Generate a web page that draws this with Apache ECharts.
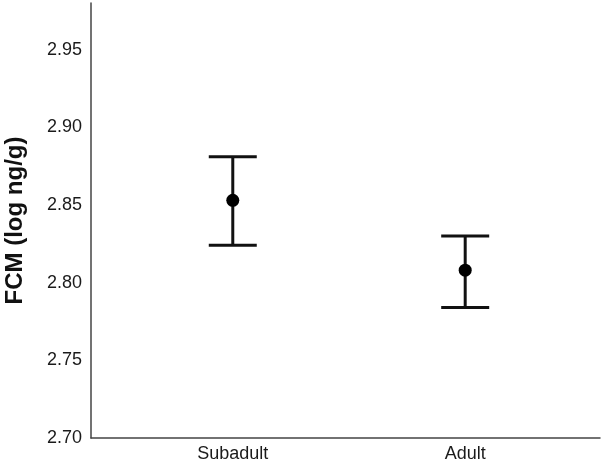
<!DOCTYPE html>
<html>
<head>
<meta charset="utf-8">
<script src="https://cdn.jsdelivr.net/npm/echarts@6/dist/echarts.min.js"></script>
<style>
  html, body { margin: 0; padding: 0; background: #fff; }
  #chart { width: 610px; height: 469px; }
</style>
</head>
<body>
<div id="chart"></div>
<script>
const categories = ['Subadult', 'Adult']
const means = [2.853, 2.808]
const lower = [2.824, 2.784]
const upper = [2.881, 2.830]
const yTicks = [2.70, 2.75, 2.80, 2.85, 2.90, 2.95]

const myChart = echarts.init(document.getElementById('chart'))

const option = {
  animation: false,
  grid: { left: 91, right: 10, top: 3, bottom: 31, outerBoundsMode: 'none', containLabel: false },
  xAxis: {
    type: 'value',
    min: -0.61,
    max: 1.58,
    splitLine: { show: false },
    axisLine: { show: true, onZero: false, lineStyle: { color: '#444', width: 1.5 } },
    axisTick: { show: false },
    axisLabel: {
      customValues: [0, 1],
      formatter: v => categories[Math.round(v)],
      color: '#1a1a1a',
      fontFamily: 'Liberation Sans',
      fontSize: 18,
      margin: 7
    }
  },
  yAxis: {
    type: 'value',
    min: 2.70,
    max: 2.98,
    interval: 0.05,
    name: 'FCM (log ng/g)',
    nameLocation: 'middle',
    nameGap: 64,
    nameTextStyle: {
      color: '#111',
      fontFamily: 'Liberation Sans',
      fontWeight: 'bold',
      fontSize: 24
    },
    splitLine: { show: false },
    axisLine: { show: true, onZero: false, lineStyle: { color: '#444', width: 1.5 } },
    axisTick: { show: false },
    axisLabel: {
      showMaxLabel: false,
      formatter: v => yTicks.some(t => Math.abs(t - v) < 1e-6) ? v.toFixed(2) : '',
      color: '#1a1a1a',
      fontFamily: 'Liberation Sans',
      fontSize: 18,
      margin: 9
    }
  },
  series: [
    {
      type: 'custom',
      renderItem: (params, api) => {
        const x = api.value(0)
        const lo = api.coord([x, api.value(1)])
        const hi = api.coord([x, api.value(2)])
        const half = 24
        const style = { stroke: '#111', lineWidth: 3 }
        return {
          type: 'group',
          children: [
            { type: 'line', shape: { x1: lo[0], y1: lo[1], x2: hi[0], y2: hi[1] }, style },
            { type: 'line', shape: { x1: hi[0] - half, y1: hi[1], x2: hi[0] + half, y2: hi[1] }, style },
            { type: 'line', shape: { x1: lo[0] - half, y1: lo[1], x2: lo[0] + half, y2: lo[1] }, style }
          ]
        }
      },
      data: categories.map((c, i) => [i, lower[i], upper[i]]),
      z: 2
    },
    {
      type: 'scatter',
      symbol: 'circle',
      symbolSize: 13,
      itemStyle: { color: '#000', opacity: 1 },
      data: categories.map((c, i) => [i, means[i]]),
      z: 3
    }
  ]
}

myChart.setOption(option)
window.onresize = myChart.resize
</script>
</body>
</html>
